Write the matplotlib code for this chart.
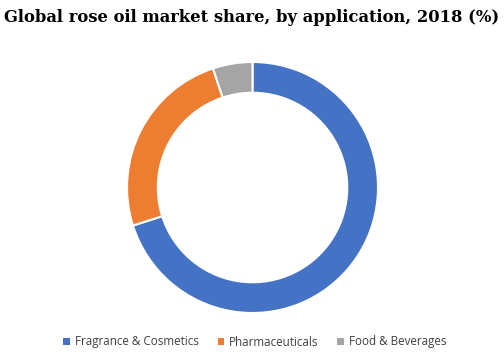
import matplotlib
matplotlib.use("Agg")
import matplotlib.pyplot as plt

categories = ["Fragrance & Cosmetics", "Pharmaceuticals", "Food & Beverages"]
shares = [70.1, 24.8, 5.1]
colors = ["#4472C4", "#ED7D31", "#A5A5A5"]
title = "Global rose oil market share, by application, 2018 (%)"

W, H = 504, 359
fig = plt.figure(figsize=(W / 100, H / 100), dpi=100)
fig.patch.set_facecolor("white")

cx, cy, r = 252.5, 187.5, 125.5
ax = fig.add_axes([(cx - r) / W, (H - cy - r) / H, 2 * r / W, 2 * r / H])
wedges, _ = ax.pie(shares, colors=colors, startangle=90, counterclock=False,
                   radius=1.0,
                   wedgeprops=dict(width=0.245, edgecolor="white", linewidth=1.5))
ax.set_xlim(-1, 1)
ax.set_ylim(-1, 1)
ax.set_aspect("equal")
ax.axis("off")

fig.text(0.5, 1 - 17 / H, title, ha="center", va="center",
         fontsize=11.8, fontweight="bold", family="DejaVu Serif")

leg = fig.legend(wedges, categories, loc="center", bbox_to_anchor=(255 / W, 1 - 342 / H),
                 ncol=3, frameon=False, handlelength=0.55, handleheight=0.55,
                 handletextpad=0.45, columnspacing=1.6,
                 prop=dict(family="Open Sans", size=8.4))
for t in leg.get_texts():
    t.set_color("#404040")
for h in leg.legend_handles:
    h.set_edgecolor("none")

fig.savefig("out.png", dpi=100, facecolor="white")
